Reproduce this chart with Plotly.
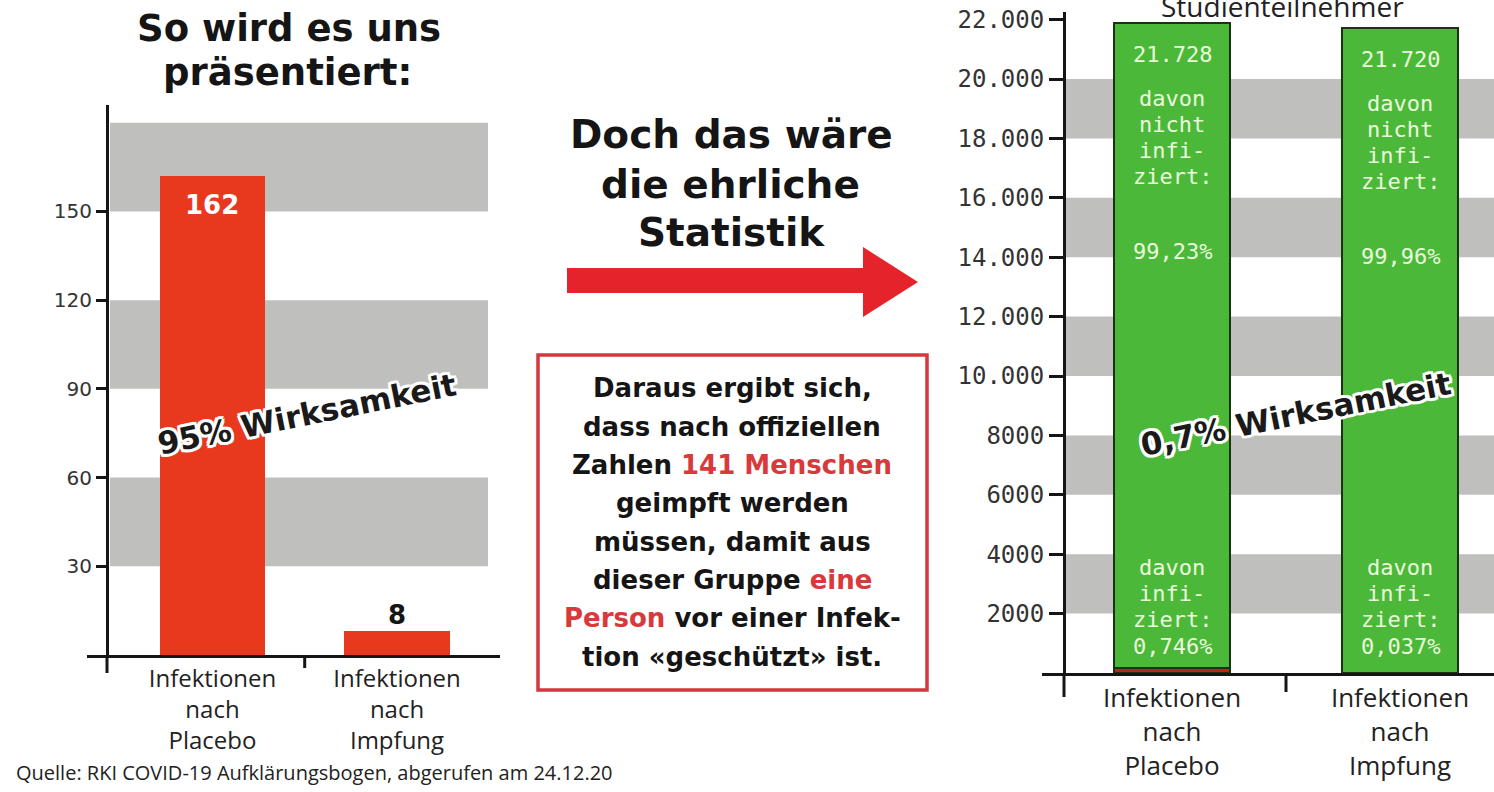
import plotly.graph_objects as go

W, H = 1494, 792


def px(x):
    return x / W


def py(y):
    return 1 - y / H


# ---------------- data ----------------
groups = ["Infektionen<br>nach<br>Placebo", "Infektionen<br>nach<br>Impfung"]
infections = [162, 8]
left_tickvals = [30, 60, 90, 120, 150]
left_bands = [(30, 60), (90, 120), (150, 180)]

not_infected = [21728, 21720]
not_infected_label = ["21.728", "21.720"]
share_not_infected = ["99,23%", "99,96%"]
share_infected = ["0,746%", "0,037%"]
right_tickvals = [2000, 4000, 6000, 8000, 10000, 12000, 14000, 16000, 18000, 20000, 22000]
right_ticktext = ["2000", "4000", "6000", "8000", "10.000", "12.000", "14.000",
                  "16.000", "18.000", "20.000", "22.000"]
right_bands = [(2000, 4000), (6000, 8000), (10000, 12000), (14000, 16000), (18000, 20000)]

box_lines = [
    "Daraus ergibt sich,",
    "dass nach offiziellen",
    "Zahlen <span style='color:#d8393b'>141 Menschen</span>",
    "geimpft werden",
    "müssen, damit aus",
    "dieser Gruppe <span style='color:#d8393b'>eine</span>",
    "<span style='color:#d8393b'>Person</span> vor einer Infek-",
    "tion «geschützt» ist.",
]

# ---------------- styles ----------------
RED = "#e8391f"
GREEN = "#4cb83a"
DARK = "#1b3312"
GREY = "#bfbfbd"
INK = "#151515"
BOLD = "DejaVu Sans"
MONO = "DejaVu Sans Mono"
SANS = "Open Sans"
HALO = ("white 2.5px 2.5px 0, white -2.5px -2.5px 0, white 2.5px -2.5px 0, white -2.5px 2.5px 0, "
        "white 0 3px 0, white 0 -3px 0, white 3px 0 0, white -3px 0 0")

fig = go.Figure()

# left chart: infections
fig.add_trace(go.Bar(
    x=[0, 1], y=infections, xaxis="x", yaxis="y", width=0.57,
    marker=dict(color=RED, line=dict(width=0)),
    hoverinfo="skip",
))

# right chart: participants (stacked)
fig.add_trace(go.Bar(
    x=[0, 1], y=infections, xaxis="x2", yaxis="y2", width=0.513,
    marker=dict(color="#b8281a", line=dict(color=DARK, width=2)),
    hoverinfo="skip",
))
fig.add_trace(go.Bar(
    x=[0, 1], y=not_infected, xaxis="x2", yaxis="y2", width=0.513,
    marker=dict(color=GREEN, line=dict(color=DARK, width=2)),
    hoverinfo="skip",
))

shapes = []
# grey bands
for lo, hi in left_bands:
    shapes.append(dict(type="rect", xref="paper", yref="y", x0=px(110), x1=px(488),
                       y0=lo, y1=hi, fillcolor=GREY, line=dict(width=0), layer="below"))
for lo, hi in right_bands:
    shapes.append(dict(type="rect", xref="paper", yref="y2", x0=px(1066), x1=1,
                       y0=lo, y1=hi, fillcolor=GREY, line=dict(width=0), layer="below"))

# axis extensions below the baseline and category separator ticks
for x, y0, y1 in [(107, 655, 673), (304.7, 655, 668), (1064, 673, 697), (1286, 673, 692)]:
    shapes.append(dict(type="line", xref="paper", yref="paper", x0=px(x), x1=px(x),
                       y0=py(y0), y1=py(y1), line=dict(color=INK, width=3)))

# arrow
pts = [(567, 268), (863, 268), (863, 247), (918, 282), (863, 317), (863, 293), (567, 293)]
path = "M " + " L ".join(f"{px(a):.5f},{py(b):.5f}" for a, b in pts) + " Z"
shapes.append(dict(type="path", xref="paper", yref="paper", path=path,
                   fillcolor="#e5232a", line=dict(width=0)))

# text box frame
shapes.append(dict(type="rect", xref="paper", yref="paper", x0=px(538), x1=px(927),
                   y0=py(355), y1=py(690), line=dict(color="#d6373d", width=3.5),
                   fillcolor="rgba(0,0,0,0)"))

ann = []


def text(x, y, s, size, family=BOLD, color=INK, xanchor="center", **kw):
    ann.append(dict(xref="paper", yref="paper", x=px(x), y=py(y), text=s,
                    showarrow=False, xanchor=xanchor, yanchor="middle",
                    font=dict(family=family, size=size, color=color), **kw))


text(289, 28, "<b>So wird es uns</b>", 37)
text(287, 72, "<b>präsentiert:</b>", 37)
text(731, 135, "<b>Doch das wäre</b>", 39)
text(730, 185, "<b>die ehrliche</b>", 39)
text(731, 232, "<b>Statistik</b>", 39)
for i, line in enumerate(box_lines):
    text(732, [388, 427, 465, 503, 542, 580, 618, 657][i], f"<b>{line}</b>", 26)
text(14, 772, "Quelle: RKI COVID-19 Aufklärungsbogen, abgerufen am 24.12.20", 20,
     family=SANS, color="#222", xanchor="left")
text(1282, 6, "Studienteilnehmer", 28, family=SANS, color="#222")

for x, s in [(307, "95% Wirksamkeit"), (1296, "0,7% Wirksamkeit")]:
    ann.append(dict(xref="paper", yref="paper", x=px(x), y=py(414), text=f"<b>{s}</b>",
                    showarrow=False, textangle=-11.4, xanchor="center", yanchor="middle",
                    font=dict(family=BOLD, size=31, color="#1a1a1a", shadow=HALO)))

# value labels of the left bars
for i, v in enumerate(infections):
    inside = i == 0
    ann.append(dict(xref="x", yref="y", x=i, y=v, yshift=-29 if inside else 16,
                    text=f"<b>{v}</b>", showarrow=False, xanchor="center", yanchor="middle",
                    font=dict(family=BOLD, size=26, color="white" if inside else INK)))

# texts inside the green bars
BAR_TXT = "#eafbdc"
for i in range(2):
    total = infections[i] + not_infected[i]
    for s, off in [(not_infected_label[i], 32), ("davon", 76), ("nicht", 102),
                   ("infi-", 128), ("ziert:", 154), (share_not_infected[i], 229)]:
        ann.append(dict(xref="x2", yref="y2", x=i, y=total, yshift=-off, text=s,
                        showarrow=False, xanchor="center", yanchor="middle",
                        font=dict(family=MONO, size=22, color=BAR_TXT)))
    for s, off in [("davon", 106), ("infi-", 80), ("ziert:", 54), (share_infected[i], 27)]:
        ann.append(dict(xref="x2", yref="y2", x=i, y=0, yshift=off, text=s,
                        showarrow=False, xanchor="center", yanchor="middle",
                        font=dict(family=MONO, size=22, color=BAR_TXT)))

axis_common = dict(showgrid=False, zeroline=False, fixedrange=True, automargin=False)

fig.update_layout(
    width=W, height=H, margin=dict(l=0, r=0, t=0, b=0, autoexpand=False),
    paper_bgcolor="white", plot_bgcolor="rgba(0,0,0,0)",
    showlegend=False, barmode="stack",
    shapes=shapes, annotations=ann,
    xaxis=dict(domain=[px(87), px(500)], range=[-0.68, 1.558], anchor="y",
               showline=True, linecolor=INK, linewidth=3, ticks="",
               tickvals=[0, 1], ticktext=groups,
               tickfont=dict(family=SANS, size=24, color="#222"), ticklabelstandoff=0,
               **axis_common),
    yaxis=dict(domain=[py(655), py(105)], range=[0, 186], anchor="free",
               position=px(107), showline=True, linecolor=INK, linewidth=3,
               ticks="outside", ticklen=10, tickwidth=2.5, tickcolor=INK,
               tickvals=left_tickvals,
               tickfont=dict(family=BOLD, size=20, color="#333"),
               **axis_common),
    xaxis2=dict(domain=[px(1042), 1.0], range=[-0.5702, 1.4123], anchor="y2",
                showline=True, linecolor=INK, linewidth=3, ticks="",
                tickvals=[0, 1], ticktext=groups,
                tickfont=dict(family=SANS, size=26, color="#222"), ticklabelstandoff=0,
                **axis_common),
    yaxis2=dict(domain=[py(673), py(12)], range=[0, 22256], anchor="free",
                position=px(1064), showline=True, linecolor=INK, linewidth=3,
                ticks="outside", ticklen=14, tickwidth=2.5, tickcolor=INK,
                tickvals=right_tickvals, ticktext=right_ticktext,
                tickfont=dict(family=MONO, size=24, color="#333"),
                **axis_common),
)

fig.write_html("out.html", config={"displayModeBar": False},
               post_script="document.body.style.margin='0';")
